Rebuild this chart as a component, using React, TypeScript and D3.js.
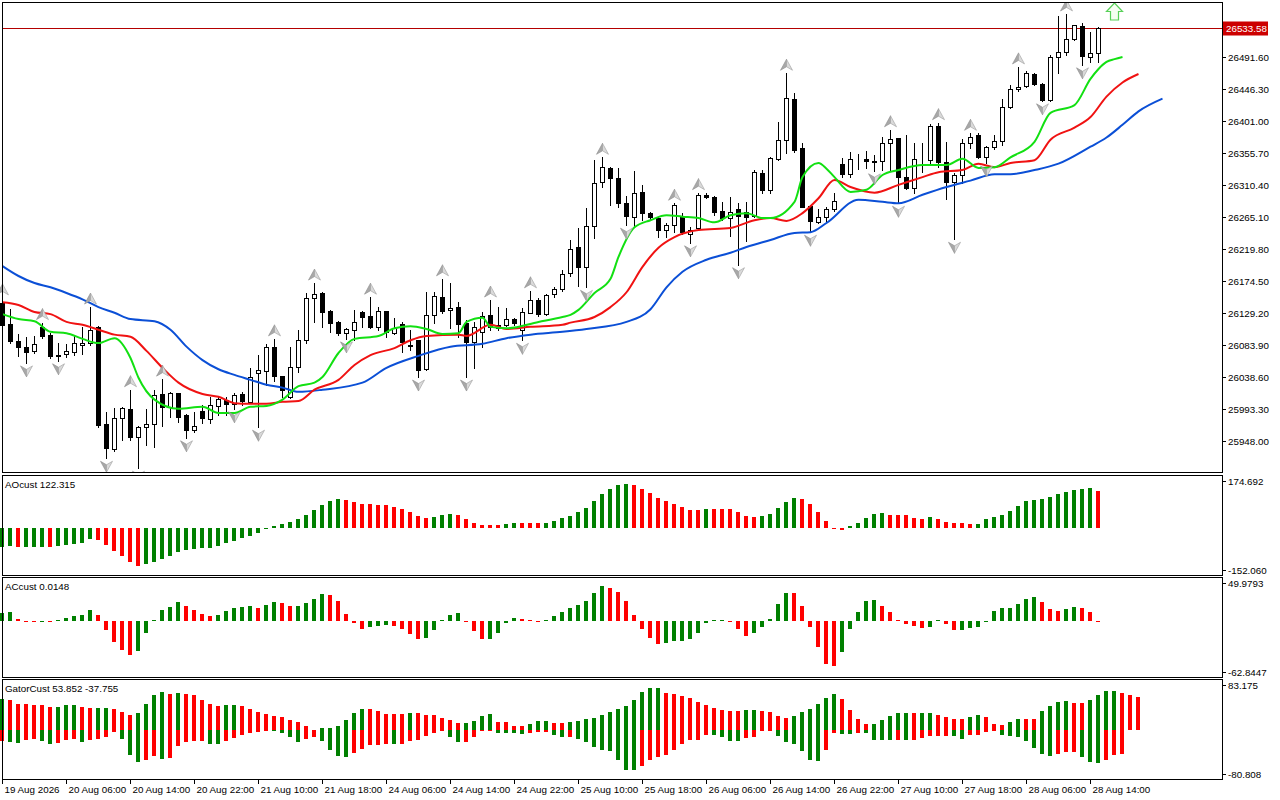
import React from 'react';
import * as d3 from 'd3';

// open, high, low, close per hourly bar
const candles: [number, number, number, number][] = [
  [26144, 26151, 26108, 26113], [26114, 26135, 26087, 26090], [26090, 26100, 26069, 26082], [26082, 26096, 26059, 26074],
  [26076, 26097, 26073, 26086], [26110, 26116, 26094, 26097], [26099, 26101, 26066, 26069], [26070, 26087, 26062, 26069],
  [26072, 26086, 26067, 26076], [26074, 26097, 26070, 26087], [26084, 26110, 26072, 26087], [26087, 26138, 26084, 26106],
  [26110, 26111, 25968, 25971], [25973, 25990, 25924, 25939], [25937, 25995, 25934, 25981], [25981, 25997, 25950, 25995],
  [25994, 26021, 25950, 25954], [25954, 25969, 25910, 25968], [25968, 25994, 25943, 25973], [25973, 26021, 25940, 26014],
  [26015, 26036, 25970, 25997], [25997, 26018, 25982, 26016], [26016, 26017, 25975, 25982], [25985, 25986, 25953, 25964],
  [25964, 25990, 25961, 25970], [25991, 25999, 25974, 25981], [25980, 26011, 25974, 25999], [25998, 26011, 25985, 26008],
  [26007, 26011, 25985, 26001], [26001, 26016, 25994, 26014], [26015, 26018, 25999, 26005], [26004, 26052, 26003, 26039],
  [26045, 26070, 25968, 26049], [26048, 26086, 26028, 26082], [26082, 26093, 26033, 26040], [26040, 26041, 26011, 26021],
  [26011, 26082, 26009, 26053], [26053, 26106, 26046, 26091], [26091, 26158, 26087, 26151], [26151, 26172, 26117, 26157],
  [26158, 26159, 26110, 26131], [26132, 26134, 26103, 26115], [26117, 26118, 26098, 26101], [26101, 26108, 26093, 26107],
  [26106, 26134, 26091, 26117], [26131, 26133, 26110, 26124], [26125, 26152, 26108, 26110], [26110, 26138, 26106, 26132],
  [26132, 26133, 26096, 26103], [26101, 26123, 26100, 26108], [26114, 26117, 26074, 26089], [26084, 26106, 26077, 26083],
  [26091, 26092, 26039, 26049], [26050, 26159, 26049, 26127], [26127, 26159, 26116, 26154], [26152, 26178, 26130, 26133],
  [26134, 26172, 26108, 26137], [26138, 26145, 26096, 26114], [26116, 26120, 26039, 26089], [26089, 26117, 26052, 26110],
  [26103, 26131, 26082, 26125], [26127, 26148, 26106, 26110], [26113, 26138, 26106, 26108], [26113, 26137, 26111, 26121],
  [26121, 26123, 26113, 26116], [26106, 26137, 26091, 26131], [26130, 26161, 26129, 26148], [26148, 26151, 26125, 26128],
  [26128, 26157, 26127, 26155], [26157, 26166, 26152, 26164], [26164, 26191, 26161, 26185], [26186, 26233, 26182, 26220],
  [26223, 26250, 26168, 26195], [26195, 26278, 26166, 26253], [26253, 26346, 26236, 26314], [26315, 26350, 26308, 26336],
  [26335, 26336, 26283, 26321], [26321, 26335, 26280, 26285], [26285, 26295, 26254, 26267], [26266, 26331, 26253, 26300],
  [26301, 26311, 26261, 26271], [26271, 26272, 26261, 26266], [26264, 26265, 26237, 26247], [26247, 26257, 26237, 26254],
  [26254, 26285, 26244, 26283], [26267, 26271, 26241, 26244], [26241, 26251, 26229, 26247], [26250, 26300, 26247, 26297],
  [26297, 26300, 26292, 26294], [26294, 26295, 26268, 26273], [26274, 26287, 26261, 26264], [26264, 26294, 26239, 26273],
  [26277, 26285, 26198, 26267], [26273, 26287, 26232, 26266], [26267, 26332, 26266, 26329], [26328, 26332, 26300, 26304],
  [26304, 26350, 26300, 26349], [26348, 26400, 26346, 26375], [26375, 26469, 26356, 26434], [26433, 26441, 26358, 26360],
  [26363, 26370, 26279, 26280], [26281, 26282, 26244, 26260], [26258, 26277, 26257, 26266], [26266, 26280, 26260, 26277],
  [26277, 26300, 26274, 26288], [26341, 26349, 26322, 26326], [26326, 26358, 26322, 26348], [26348, 26355, 26334, 26348],
  [26348, 26359, 26335, 26345], [26345, 26353, 26331, 26344], [26345, 26379, 26332, 26370], [26370, 26389, 26331, 26376],
  [26377, 26378, 26285, 26322], [26322, 26382, 26305, 26307], [26307, 26370, 26300, 26348], [26348, 26370, 26329, 26347],
  [26346, 26397, 26341, 26394], [26394, 26399, 26336, 26343], [26343, 26372, 26291, 26315], [26315, 26328, 26234, 26325],
  [26325, 26376, 26314, 26370], [26370, 26384, 26363, 26379], [26382, 26384, 26349, 26350], [26350, 26366, 26342, 26365],
  [26365, 26382, 26362, 26373], [26373, 26433, 26367, 26421], [26421, 26452, 26420, 26447], [26447, 26478, 26444, 26450],
  [26451, 26472, 26449, 26469], [26468, 26469, 26452, 26454], [26454, 26455, 26430, 26431], [26431, 26495, 26430, 26492],
  [26492, 26550, 26469, 26499], [26499, 26553, 26495, 26518], [26518, 26538, 26516, 26537], [26536, 26540, 26481, 26493],
  [26492, 26527, 26485, 26498], [26498, 26534, 26485, 26533.58],
];

// alligator lines as [bar index, price]
const jaw: [number, number][] = [
  [0, 26196], [2, 26182], [4, 26172], [6, 26166], [8, 26158], [10, 26149], [12, 26138], [14, 26130], [16, 26121],
  [19, 26118], [21, 26106], [23, 26082], [25, 26063], [27, 26050], [29, 26042], [31, 26035], [33, 26028], [35, 26024],
  [37, 26018], [40, 26021], [45, 26031], [48, 26052], [52, 26069], [56, 26082], [60, 26086], [63, 26094], [66, 26099],
  [70, 26103], [73, 26107], [78, 26117], [81, 26135], [83, 26166], [85, 26188], [88, 26205], [91, 26215], [93, 26223],
  [96, 26233], [99, 26243], [101, 26244], [103, 26257], [107, 26290], [110, 26287], [112, 26285], [115, 26297],
  [118, 26308], [121, 26317], [124, 26326], [126, 26326], [129, 26332], [132, 26341], [136, 26365], [138, 26378],
  [140, 26396], [142, 26415], [145, 26433],
];
const teeth: [number, number][] = [
  [0, 26145], [2, 26141], [4, 26131], [6, 26128], [8, 26117], [10, 26113], [12, 26106], [14, 26099], [16, 26096],
  [18, 26076], [20, 26052], [22, 26031], [25, 26015], [27, 26011], [29, 26002], [31, 26001], [33, 26001], [35, 26004],
  [37, 26005], [39, 26021], [42, 26035], [44, 26056], [46, 26070], [49, 26080], [51, 26091], [53, 26097], [57, 26099],
  [58, 26097], [61, 26113], [63, 26107], [66, 26110], [70, 26113], [71, 26116], [74, 26124], [76, 26138], [78, 26159],
  [80, 26195], [82, 26222], [84, 26237], [87, 26247], [91, 26250], [94, 26261], [96, 26264], [98, 26260], [100, 26271],
  [102, 26292], [104, 26318], [106, 26308], [109, 26300], [112, 26311], [115, 26322], [117, 26329], [120, 26332],
  [122, 26341], [124, 26336], [126, 26342], [129, 26346], [131, 26375], [134, 26392], [136, 26407], [138, 26436],
  [140, 26456], [142, 26468],
];
const lips: [number, number][] = [
  [0, 26128], [2, 26121], [4, 26118], [6, 26103], [8, 26101], [10, 26093], [12, 26087], [14, 26094], [16, 26066],
  [17, 26038], [19, 26007], [22, 25994], [25, 25997], [27, 25988], [29, 25988], [31, 25997], [33, 25998], [35, 26007],
  [37, 26026], [39, 26031], [40, 26039], [42, 26073], [44, 26093], [47, 26097], [49, 26108], [51, 26111], [53, 26107],
  [55, 26100], [57, 26101], [58, 26117], [60, 26123], [61, 26110], [63, 26108], [67, 26117], [70, 26124], [71, 26127],
  [72, 26134], [74, 26158], [76, 26178], [77, 26209], [79, 26251], [81, 26261], [83, 26268], [85, 26266], [87, 26264],
  [89, 26258], [91, 26268], [93, 26271], [95, 26264], [96, 26264], [99, 26287], [100, 26322], [102, 26342], [103, 26334],
  [104, 26322], [106, 26301], [108, 26304], [110, 26325], [112, 26332], [115, 26339], [118, 26339], [120, 26348],
  [122, 26335], [124, 26336], [126, 26350], [129, 26372], [131, 26413], [134, 26424], [136, 26461], [137, 26475],
  [138, 26485], [139, 26489], [140, 26492],
];

const fractalUp = [0, 5, 11, 16, 20, 34, 39, 46, 55, 61, 66, 75, 84, 87, 98, 111, 117, 121, 127, 133];
const fractalDown = [3, 7, 13, 17, 23, 29, 32, 43, 52, 58, 65, 73, 78, 86, 92, 101, 109, 112, 119, 123, 130, 135];

const aoValues = [
  -76, -73, -77, -76.8, -76.5, -76, -77, -72, -69, -65, -60, -47, -49, -69, -93, -113, -136, -152, -145, -136,
  -124, -112, -96, -88, -85, -83, -81, -72, -61, -52, -43, -32, -23, -7, 7, 13, 23, 35, 52, 72,
  91, 108, 115, 111, 104, 95, 93, 91, 90, 83, 76, 64, 47, 39, 44, 52, 56, 51, 36, 19,
  11, 10, 9, 15, 20, 19, 18, 17, 19, 28, 40, 48, 64, 80, 108, 135, 155, 171, 175, 170,
  155, 139, 119, 107, 95, 83, 72, 71, 76, 75, 74, 73, 64, 48, 43, 48, 55, 80, 104, 119,
  115, 96, 64, 28, -4, -8, 7, 19, 40, 53, 57, 52, 51, 50, 40, 36, 43, 36, 23, 19,
  18, 15, 16, 36, 43, 52, 68, 87, 108, 112, 115, 124, 135, 144, 151, 155, 157, 148,
];
const acValues = [
  11, 12.4, 2.3, -0.5, -0.7, -0.2, -0.5, 0.5, 3.2, 6.4, 7.8, 14.7, 7.8, -12.4, -29.4, -40, -47.4, -41.4, -16.6, 0.9,
  14.7, 18.9, 25.8, 20.2, 14.7, 9.2, 6.4, 7.8, 13.3, 17.5, 18.9, 20.2, 17.5, 21.6, 25.8, 24.4, 20.2, 20.5, 24.4, 29.9,
  36.8, 35.4, 27.1, 9.2, -3.2, -11, -8.3, -6.9, -5.5, -6.9, -11, -17.9, -24.8, -23.5, -12.4, 1.4, 7.8, 11, -0.9, -14.7,
  -24.8, -24.6, -16.6, -2.8, 3.7, 1.8, 0.5, -0.5, 0.9, 6.4, 12.4, 17.5, 21.6, 27.1, 38.2, 47.8, 45.1, 39.6, 27.1, 7.8,
  -11, -23.9, -31.7, -30.4, -27.6, -27.5, -25.3, -16.6, -2.8, 0.9, 1, -0.9, -11, -20.7, -16.6, -8.3, 1.8, 23, 38.2, 38,
  20.2, -8.3, -35.9, -59.3, -62.8, -42.8, -11, 12.4, 27.1, 28.5, 20.2, 12.4, 0.5, -4.1, -6.9, -9.7, -8.3, 0.5, -4.1, -13.3,
  -12.4, -9.7, -8.3, -0.9, 13.3, 17.5, 17.6, 23, 29.9, 32.7, 25.8, 16.1, 13.3, 16.1, 18.9, 17.5, 12.4, 0.0148,
];
const gatorUpper = [
  62, 59.3, 51.3, 51.2, 49.3, 49.2, 45.3, 45.4, 49.3, 49.4, 45.3, 43.3, 43.4, 43.5, 41.3, 36, 30, 34, 51.3, 69.3,
  75.3, 71.3, 73.3, 71.3, 69.3, 59.3, 51.3, 47.3, 49.3, 50, 48, 42, 36, 32, 28, 26, 20, 16, 8, 0.5,
  4, 4.1, 8, 20, 34, 42, 41.9, 38, 32, 31.9, 31.8, 34, 33.8, 30, 29.9, 24, 19.3, 14, 14.1, 18,
  28, 31.3, 16, 15.9, 8, 7.9, 12, 18, 18.1, 14, 13.9, 16, 18, 22, 24, 30, 36, 42, 48, 59.3,
  75.3, 83.1, 83.175, 73.3, 71.3, 67.3, 63.3, 55.3, 49.3, 43.3, 40, 37.3, 37.2, 40, 40.1, 38, 36, 28, 24, 28,
  36, 42, 51.3, 63.3, 71.3, 61.3, 40, 21.3, 12, 12.1, 20, 28, 34, 34.1, 34, 34.1, 34.2, 30, 26, 22,
  21.9, 26, 30, 26, 12, 10, 16, 22, 21.9, 21.8, 38, 48, 55.3, 57.3, 53.3, 53.2, 59.3, 69.3, 77.3, 78.7,
  73.3, 69.3, 65.3,
];
const gatorLower = [
  -22, -24, -26, -20, -18, -22, -28, -26, -20, -18, -24, -20, -18, -14, -4, -18, -50, -64, -60, -52,
  -58, -56, -32, -24, -22, -21.9, -28, -28.1, -22, -15.3, -10, -5.3, -4, -2, -2.1, -6, -14, -24, -18, -14,
  -22, -40, -52, -54, -46, -38, -30, -29.9, -28, -28.1, -28, -22, -20, -12, -6, -2, -14, -24, -23.9, -14,
  -2, -1.9, -6, -6.1, -6.2, -8, -6, -4, -3.9, -10, -14, -13.9, -18, -24, -34, -40, -42, -60, -80, -80.8,
  -72, -60, -54, -50, -40, -28, -20, -19.9, -10, -10.1, -14, -22, -22.1, -16, -14, -2, -1.9, -12, -24, -28,
  -42, -60, -62, -40, -6, -8, -8.1, -6, -6.1, -20, -20.1, -20.2, -20.1, -20.2, -20.1, -16, -12, -11.9, -11.8, -12,
  -18, -10, -9.9, -4, -0.5, -10, -12, -14, -22, -36, -48, -52, -48, -44, -43.9, -54, -64, -66, -60, -50,
  -48,
];

const priceTicks = [26491.6, 26446.3, 26401.0, 26355.7, 26310.4, 26265.1, 26219.8, 26174.5, 26129.2, 26083.9, 26038.6, 25993.3, 25948.0];
const lastPrice = 26533.58;
const timeLabels = [
  '19 Aug 2026', '20 Aug 06:00', '20 Aug 14:00', '20 Aug 22:00', '21 Aug 10:00', '21 Aug 18:00',
  '24 Aug 06:00', '24 Aug 14:00', '24 Aug 22:00', '25 Aug 10:00', '25 Aug 18:00', '26 Aug 06:00',
  '26 Aug 14:00', '26 Aug 22:00', '27 Aug 10:00', '27 Aug 18:00', '28 Aug 06:00', '28 Aug 14:00',
];

const FONT = '"Liberation Sans", Arial, sans-serif';
const GREEN = '#008000';
const RED = '#ff0000';

function Fractal({ cx, cy, up }: { cx: number; cy: number; up: boolean }) {
  const s = up ? 1 : -1;
  const tip = `${cx},${cy - 6 * s}`;
  const notch = `${cx},${cy + 1.5 * s}`;
  return (
    <g>
      <polygon points={`${tip} ${cx - 6},${cy + 5 * s} ${notch}`} fill="#a8a8a8" stroke="#8c8c8c" strokeWidth={0.6} />
      <polygon points={`${tip} ${cx + 6},${cy + 5 * s} ${notch}`} fill="#dadada" stroke="#9c9c9c" strokeWidth={0.6} />
    </g>
  );
}

function Histogram({ values, y, compareAbs }: { values: number[]; y: d3.ScaleLinear<number, number>; compareAbs?: boolean }) {
  const x = d3.scaleLinear().domain([0, 137]).range([2, 1098]);
  const y0 = y(0);
  return (
    <g shapeRendering="crispEdges">
      {values.map((v, i) => {
        const prev = i > 0 ? values[i - 1] : v - 1;
        const up = compareAbs ? Math.abs(v) > Math.abs(prev) : v > prev;
        const yv = y(v);
        const top = Math.min(yv, y0);
        const h = Math.max(Math.abs(yv - y0), 1);
        return <rect key={i} x={x(i) - 2} y={top} width={4} height={h} fill={up ? GREEN : RED} />;
      })}
    </g>
  );
}

export default function App() {
  const x = d3.scaleLinear().domain([0, 137]).range([2, 1098]);
  const yP = d3.scaleLinear().domain([25948, 26491.6]).range([441.3, 57.3]);
  const yAO = d3.scaleLinear().domain([-152.06, 174.692]).range([565.7, 484]);
  const yAC = d3.scaleLinear().domain([-62.8447, 49.9793]).range([666.2, 584.5]);
  const yG = d3.scaleLinear().domain([-80.808, 83.175]).range([770.4, 688.4]);

  const line = d3
    .line<[number, number]>()
    .x((d) => x(d[0]) + 0.5)
    .y((d) => yP(d[1]))
    .curve(d3.curveMonotoneX);
  const lastY = Math.round(yP(lastPrice)) + 0.5;

  const panels = [
    { y0: 2.5, y1: 472.5 },
    { y0: 475.5, y1: 575.5 },
    { y0: 577.5, y1: 677.5 },
    { y0: 679.5, y1: 779.5 },
  ];
  const subLabels = [
    { text: '174.692', y: 481 }, { text: '-152.060', y: 570 },
    { text: '49.9793', y: 583 }, { text: '-62.8447', y: 672 },
    { text: '83.175', y: 685 }, { text: '-80.808', y: 774 },
  ];

  return (
    <div style={{ position: 'fixed', left: 0, top: 0, width: 1280, height: 800, background: '#fff' }}>
      <svg width={1280} height={800} style={{ display: 'block', fontFamily: FONT }}>
        <defs>
          <clipPath id="mainClip">
            <rect x={0} y={3} width={1222} height={469} />
          </clipPath>
        </defs>
        <rect x={0} y={0} width={1280} height={800} fill="#fff" />

        {/* main price panel */}
        <line x1={2.5} x2={1222.5} y1={lastY} y2={lastY} stroke="#b40000" strokeWidth={1} />
        <g clipPath="url(#mainClip)">
          <g shapeRendering="crispEdges">
            {candles.map(([o, h, l, c], i) => {
              const cx = x(i);
              const top = Math.round(yP(Math.max(o, c)));
              const bot = Math.round(yP(Math.min(o, c)));
              const bull = c > o;
              return (
                <g key={i}>
                  <line x1={cx + 0.5} x2={cx + 0.5} y1={Math.round(yP(h))} y2={Math.round(yP(l)) + 1} stroke="#000" />
                  <rect x={cx - 1.5} y={top + 0.5} width={4} height={Math.max(bot - top, 0)} fill={bull ? '#fff' : '#000'} stroke="#000" />
                </g>
              );
            })}
          </g>
          <path d={line(jaw) || ''} fill="none" stroke="#0b4fd6" strokeWidth={2} strokeLinejoin="round" />
          <path d={line(teeth) || ''} fill="none" stroke="#f01212" strokeWidth={2} strokeLinejoin="round" />
          <path d={line(lips) || ''} fill="none" stroke="#12e012" strokeWidth={2} strokeLinejoin="round" />
          {fractalUp.map((i) => (
            <Fractal key={'u' + i} cx={x(i) + 0.5} cy={yP(candles[i][1]) - 8} up={true} />
          ))}
          {fractalDown.map((i) => (
            <Fractal key={'d' + i} cx={x(i) + 0.5} cy={yP(candles[i][2]) + 8} up={false} />
          ))}
          <path
            d={`M${x(139) + 0.5},3 L${x(139) + 8.5},11.5 L${x(139) + 4.5},11.5 L${x(139) + 4.5},20 L${x(139) - 3.5},20 L${x(139) - 3.5},11.5 L${x(139) - 7.5},11.5 Z`}
            fill="#f6fff2"
            stroke="#58d058"
            strokeWidth={1.2}
          />
        </g>

        {/* sub windows */}
        <Histogram values={aoValues} y={yAO} />
        <Histogram values={acValues} y={yAC} />
        <Histogram values={gatorUpper} y={yG} compareAbs />
        <Histogram values={gatorLower} y={yG} compareAbs />

        {/* frames */}
        <g shapeRendering="crispEdges" fill="none" stroke="#000">
          {panels.map((p, k) => (
            <rect key={k} x={2.5} y={p.y0} width={1220} height={p.y1 - p.y0} />
          ))}
        </g>

        {/* price axis */}
        <g fontSize={9.8} fill="#000" shapeRendering="crispEdges">
          {priceTicks.map((v) => {
            const yy = Math.round(yP(v)) + 0.5;
            return (
              <g key={v}>
                <line x1={1222.5} x2={1226} y1={yy} y2={yy} stroke="#000" />
                <text x={1228} y={yy + 3.5}>{v.toFixed(2)}</text>
              </g>
            );
          })}
          {subLabels.map((s) => (
            <g key={s.text}>
              <line x1={1222.5} x2={1226} y1={s.y + 0.5} y2={s.y + 0.5} stroke="#000" />
              <text x={1228} y={s.y + 4}>{s.text}</text>
            </g>
          ))}
        </g>
        <rect x={1223} y={lastY - 7} width={45} height={14} fill="#cc0000" />
        <text x={1226} y={lastY + 3.5} fontSize={9.8} fill="#fff">{lastPrice.toFixed(2)}</text>

        {/* indicator captions */}
        <g fontSize={9.8} fill="#000">
          <text x={5} y={488}>AOcust 122.315</text>
          <text x={5} y={590}>ACcust 0.0148</text>
          <text x={5} y={692}>GatorCust 53.852 -37.755</text>
        </g>

        {/* time axis */}
        <g fontSize={9.8} fill="#000">
          {timeLabels.map((t, k) => {
            const xx = x(k * 8) + 0.5;
            return (
              <g key={t}>
                <line x1={xx} x2={xx} y1={779.5} y2={784} stroke="#000" shapeRendering="crispEdges" />
                <text x={xx + 2} y={793}>{t}</text>
              </g>
            );
          })}
        </g>
      </svg>
    </div>
  );
}
